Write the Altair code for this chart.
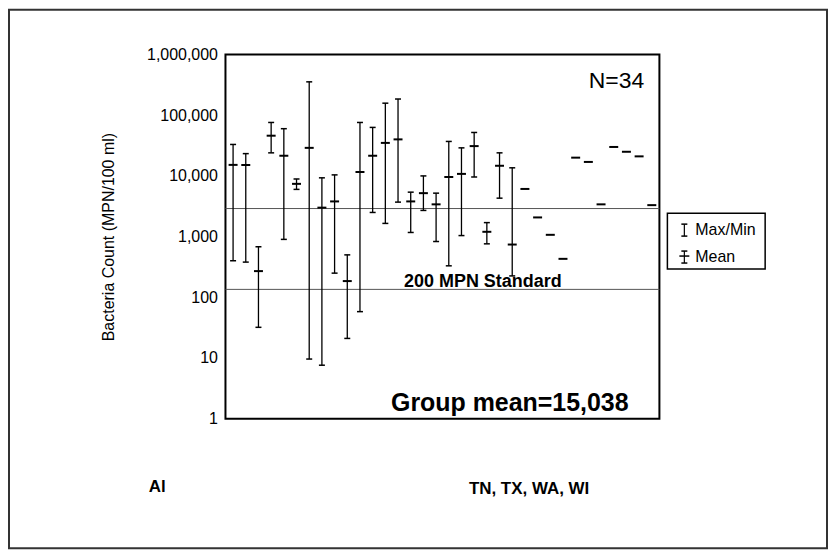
import altair as alt
import pandas as pd

# ---- data ----
means = [15200, 15200, 270, 46000, 21500, 7400, 29000, 3000, 3800, 185,
         11600, 21500, 35000, 40000, 3800, 5200, 3400, 9600, 10800, 31000,
         1200, 14700, 740, 6100, 2070, 1070, 430, 20000, 17000, 3400,
         30000, 25000, 21000, 3300]
maxs = [33000, 23300, 680, 76000, 60000, 8900, 355000, 9300, 10400, 500,
        76000, 63000, 158000, 185000, 5400, 10000, 5200, 37000, 29000, 52000,
        1700, 24000, 13600]
mins = [400, 380, 32, 24000, 900, 6000, 9.6, 7.6, 250, 21,
        58, 2500, 1650, 3700, 1170, 2700, 830, 330, 1040, 9600,
        760, 4300, 225]
ref_values = [2900, 135]
y_ticks = [1, 10, 100, 1000, 10000, 100000, 1000000]

FONT = "Liberation Sans"
W, H = 435, 365

mean_df = pd.DataFrame({"site": list(range(1, len(means) + 1)), "mean": means})
bar_df = pd.DataFrame({"site": list(range(1, len(maxs) + 1)), "max": maxs, "min": mins})
ref_df = pd.DataFrame({"v": ref_values})

xs = alt.Scale(domain=[0.4, 34.6], nice=False, zero=False)
ys = alt.Scale(type="log", domain=[1, 1000000], nice=False)
X = alt.X("site:Q", scale=xs, axis=None)

yaxis = alt.Axis(values=y_ticks, format=",", labelFont=FONT, labelFontSize=16,
                 labelColor="black", ticks=False, domain=False, grid=False,
                 labelPadding=8, title="Bacteria Count (MPN/100 ml)",
                 titleFont=FONT, titleFontSize=16, titleFontWeight="normal",
                 titleColor="black", titlePadding=30)

rules = alt.Chart(bar_df).mark_rule(color="black", strokeWidth=1.3).encode(
    x=X, y=alt.Y("min:Q", scale=ys, axis=yaxis), y2="max:Q")
cap_lo = alt.Chart(bar_df).mark_tick(orient="horizontal", size=6, thickness=1.5,
                                     color="black", opacity=1).encode(
    x=X, y=alt.Y("min:Q", scale=ys))
cap_hi = alt.Chart(bar_df).mark_tick(orient="horizontal", size=6, thickness=1.5,
                                     color="black", opacity=1).encode(
    x=X, y=alt.Y("max:Q", scale=ys))
mean_t = alt.Chart(mean_df).mark_tick(orient="horizontal", size=9, thickness=2,
                                      color="black", opacity=1).encode(
    x=X, y=alt.Y("mean:Q", scale=ys))
refs = alt.Chart(ref_df).mark_rule(color="#555", strokeWidth=1).encode(
    y=alt.Y("v:Q", scale=ys))

one = pd.DataFrame({"a": [0]})


def txt(s, x, y, size, weight="normal", align="center"):
    return alt.Chart(one).mark_text(text=s, font=FONT, fontSize=size,
                                    fontWeight=weight, align=align,
                                    baseline="middle", color="black").encode(
        x=alt.value(x), y=alt.value(y))


def seg(x1, y1, x2, y2, w=1.5):
    return alt.Chart(one).mark_rule(color="black", strokeWidth=w).encode(
        x=alt.value(x1), x2=alt.value(x2), y=alt.value(y1), y2=alt.value(y2))


texts = [
    txt("N=34", 392, 27, 23),
    txt("Group mean=15,038", 285, 349, 25, "bold"),
    txt("200 MPN Standard", 258, 228, 18, "bold"),
    txt("Al", -77, 434, 17, "bold", "left"),
    txt("TN, TX, WA, WI", 244, 436, 17, "bold", "left"),
    txt("Max/Min", 471, 176, 16, align="left"),
    txt("Mean", 471, 203, 16, align="left"),
]

legend_box = alt.Chart(one).mark_rect(filled=False, stroke="black", strokeWidth=1.5).encode(
    x=alt.value(443), x2=alt.value(541), y=alt.value(159), y2=alt.value(215))
legend_syms = [
    seg(460, 170, 460, 182, 1.2), seg(457, 170, 463, 170), seg(457, 182, 463, 182),
    seg(460, 197, 460, 209, 1.2), seg(457, 197, 463, 197), seg(457, 209, 463, 209),
    seg(455, 202, 465, 202),
]

plot_frame = alt.Chart(one).mark_rect(filled=False, stroke="black", strokeWidth=2).encode(
    x=alt.value(0), x2=alt.value(W), y=alt.value(0), y2=alt.value(H))

frame = alt.Chart(one).mark_rect(filled=False, stroke="#333", strokeWidth=2).encode(
    x=alt.value(-217), x2=alt.value(W + 168), y=alt.value(-45), y2=alt.value(H + 130))

chart = alt.layer(
    frame, plot_frame, refs, rules, cap_lo, cap_hi, mean_t, legend_box,
    *legend_syms, *texts
).properties(width=W, height=H, padding=0, background="white").configure_view(
    stroke=None)

chart.save("out.html", embed_options={"renderer": "svg", "actions": False})
